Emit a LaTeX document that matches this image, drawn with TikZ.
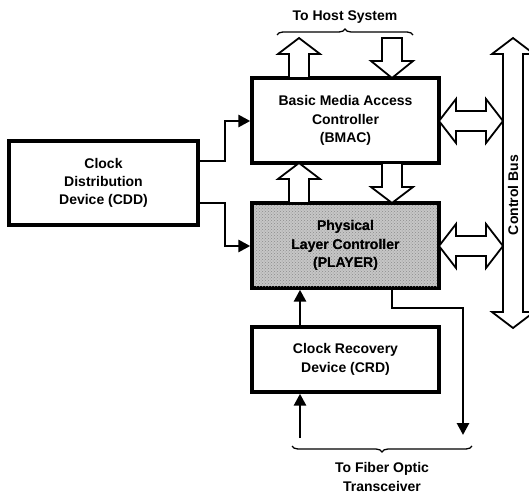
\documentclass[tikz,border=0pt]{standalone}
\usepackage{fontspec}
\setmainfont{Liberation Sans}
\usetikzlibrary{arrows.meta,decorations.pathreplacing,patterns}
\begin{document}
\begin{tikzpicture}[x=1pt,y=-1pt,
  blk/.style={draw,line width=3.4pt,minimum width=187pt,inner sep=0pt,align=center,font=\bfseries\fontsize{14pt}{18.3pt}\selectfont},
  conn/.style={line width=2.8pt,-{Triangle[length=12pt,width=12pt]}},
  fat/.style={draw,fill=white,line width=1.8pt,line join=miter},
  lbl/.style={align=center,font=\bfseries\fontsize{14pt}{18.3pt}\selectfont},
  brc/.style={decorate,decoration={brace,amplitude=6pt},line width=1.3pt}]
\useasboundingbox (0,0) rectangle (529,495);
% boxes
\node[blk,minimum height=85pt] (bmac) at (345.5,120.5) {Basic Media Access\\Controller\\(BMAC)};
\node[blk,minimum height=85pt,fill=gray!45] (player) at (345.5,245.5) {Physical\\Layer Controller\\(PLAYER)};
\fill[pattern=crosshatch dots,pattern color=gray!90] (254,205) rectangle (437,286);
\node[lbl] at (player) {Physical\\Layer Controller\\(PLAYER)};
\node[blk,minimum height=65pt] (crd) at (345.5,359.5) {Clock Recovery\\Device (CRD)};
\node[blk,minimum width=189pt,minimum height=84pt] (cdd) at (103.5,183) {Clock\\Distribution\\Device (CDD)};
% clock connectors
\draw[conn] (cdd.east |- 0,161) -- (225,161) |- (bmac.west |- 0,121);
\draw[conn] (cdd.east |- 0,203) -- (225,203) |- (player.west |- 0,246);
\coordinate (fin) at (300,438);
\coordinate (fout) at (463,435);
\draw[conn] (fin) -- (fin |- crd.south);
\draw[conn] (crd.north -| fin) -- (player.south -| fin);
\draw[conn] (player.south -| 392,0) -- (392,308) -| (fout);
% fat arrows to/from host
\draw[fat] (299,38) -- (320,54) -- (309,54) -- (309,78) -- (289,78) -- (289,54) -- (278,54) -- cycle;
\draw[fat] (392,78) -- (413,61) -- (402,61) -- (402,38) -- (382,38) -- (382,61) -- (371,61) -- cycle;
% between BMAC and PLAYER
\draw[fat] (299,163) -- (320,179) -- (309,179) -- (309,203) -- (289,203) -- (289,179) -- (278,179) -- cycle;
\draw[fat] (392,203) -- (413,187) -- (402,187) -- (402,163) -- (382,163) -- (382,187) -- (371,187) -- cycle;
% horizontal double arrows
\draw[fat] (439,121) -- (456,99) -- (456,111) -- (486,111) -- (486,99) -- (503,121) -- (486,143) -- (486,131) -- (456,131) -- (456,143) -- cycle;
\draw[fat] (439,246) -- (456,224) -- (456,236) -- (486,236) -- (486,224) -- (503,246) -- (486,268) -- (486,256) -- (456,256) -- (456,268) -- cycle;
% control bus
\draw[fat] (513,38) -- (534,54) -- (523,54) -- (523,312) -- (534,312) -- (513,328) -- (492,312) -- (503,312) -- (503,54) -- (492,54) -- cycle;
\node[lbl,rotate=90] (cbus) at (513,195) {Control Bus};
% braces and labels
\draw[brc] (277,35) -- (413,35);
\node[lbl] (host) at (345,17) {To Host System};
\draw[brc] (472,446) -- (292,446);
\node[lbl] (fiber) at (382,477) {To Fiber Optic\\Transceiver};
\end{tikzpicture}
\end{document}
